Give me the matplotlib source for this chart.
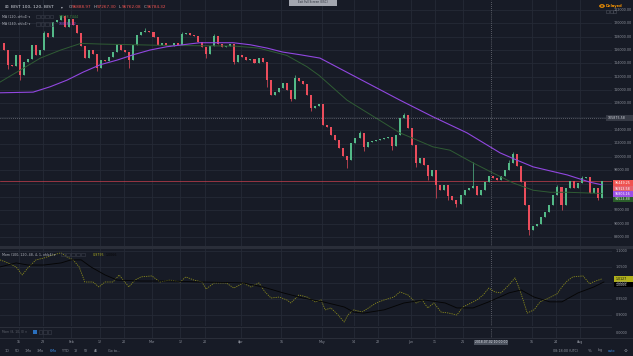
import numpy as np
import pandas as pd
import matplotlib.pyplot as plt
from matplotlib.patches import Rectangle, Circle

W, H = 633, 356
BG = '#171b26'
GRID = '#252a36'
TXT = '#8d919b'
UP = '#53b987'
DN = '#eb4d5c'

# BIST trading days shown on the chart (one candle per day here)
holidays = ["2018-04-23", "2018-05-01", "2018-06-15"]
days = pd.bdate_range("2018-01-09", "2018-08-08")
days = days[~days.isin(pd.to_datetime(holidays))]

# daily closes, thousands
first_open = 117.0
closes = [116.0, 113.8, 113.6, 115.3, 112.3, 114.2, 114.6, 116.8, 115.3, 116.0,
          118.6, 118.0, 120.2, 120.5, 121.1, 119.5, 120.7, 119.8, 118.6, 116.6,
          114.8, 116.0, 115.4, 113.3, 114.5, 114.4, 115.0, 115.7, 116.9, 116.0,
          115.7, 114.5, 116.8, 118.3, 118.7, 118.9, 118.7, 118.0, 116.8, 117.0,
          116.8, 116.6, 117.0, 116.8, 118.4, 118.5, 118.3, 118.1, 117.2, 116.5,
          115.4, 116.6, 118.1, 116.9, 116.5, 116.6, 116.9, 114.2, 115.3, 115.0,
          114.5, 114.7, 114.1, 114.8, 114.2, 111.5, 109.3, 109.7, 110.3, 111.1,
          110.0, 108.7, 111.8, 111.4, 110.9, 109.3, 107.3, 107.6, 107.9, 104.8,
          104.5, 103.3, 102.5, 101.3, 100.1, 99.5, 102.1, 102.8, 103.6, 101.5,
          102.2, 102.4, 102.5, 102.7, 102.8, 103.0, 101.6, 103.3, 105.8, 106.3,
          104.3, 101.8, 99.1, 99.8, 98.8, 97.1, 98.0, 95.8, 95.0, 95.8,
          94.1, 93.5, 92.9, 94.3, 95.0, 95.3, 95.6, 94.3, 95.0, 96.2,
          97.1, 96.8, 96.6, 97.1, 98.0, 99.1, 100.4, 98.6, 96.2, 92.8,
          89.0, 89.6, 89.9, 91.0, 91.7, 92.8, 94.3, 95.5, 92.8, 95.3,
          96.4, 95.3, 96.1, 96.8, 97.0, 94.6, 95.3, 93.8, 96.45]
wick_hi = {14: 121.3, 99: 106.6, 116: 99.2, 126: 100.8, 72: 112.3, 35: 119.3,
           10: 118.9, 44: 118.7, 52: 118.4, 88: 103.9, 125: 99.5, 137: 95.8,
           143: 97.2}
wick_lo = {4: 111.5, 31: 113.3, 57: 113.9, 71: 108.4, 85: 98.3, 89: 100.9,
           107: 93.8, 112: 92.5, 130: 88.3, 138: 92.0, 147: 93.5, 23: 112.8,
           50: 114.8, 65: 110.4, 76: 106.9, 96: 101.0, 102: 98.5, 105: 96.6,
           110: 93.5, 1: 113.2}

# moving averages (day index, thousands)
ma120_x = [-1, 4, 9, 14, 19, 24, 40, 57, 63, 70, 75, 78, 84.9, 98, 106.2, 110.4,
           116.1, 121, 126, 131, 135.2, 139.4, 148]
ma120_y = [111.2, 113.0, 114.8, 116.0, 117.0, 116.9, 116.7, 116.6, 116.3, 115.2,
           113.5, 112.2, 108.5, 103.6, 101.5, 101.0, 99.1, 97.6, 96.1, 95.0,
           94.7, 94.7, 94.52]
ma240_x = [-1, 7.2, 11.4, 15.6, 19.6, 23.8, 28, 32, 36.1, 40.3, 44.3, 48.5, 56.7,
           60.9, 65.1, 69, 73.3, 78.2, 98, 106.2, 114.6, 122.8, 127, 131, 139.4,
           145.1, 148]
ma240_y = [109.6, 109.7, 110.5, 111.5, 112.7, 113.8, 114.5, 115.3, 116.0, 116.5,
           116.8, 117.1, 117.1, 116.8, 116.3, 115.7, 115.3, 114.8, 108.5, 106.0,
           103.6, 100.6, 99.5, 98.5, 97.3, 96.2, 95.81]

# momentum pane
mom_x = [-1, 1, 3, 4.5, 5.9, 7.9, 9.9, 12.1, 14.1, 15.6, 17.1, 18.6, 20, 22, 23.5,
         25, 27, 28.5, 29.5, 30.9, 32.4, 33.9, 36.6, 38.6, 41.1, 43.6, 45, 47, 49,
         50, 52, 55, 56.9, 59.2, 61.1, 63.1, 64.6, 66.1, 68.1, 70, 71, 73, 75, 77,
         78.5, 79.5, 80.9, 82.7, 84.2, 85.1, 86.6, 88.6, 90.6, 92.1, 94.1, 96.5, 98,
         100, 102, 103.5, 104.9, 106.4, 108.2, 110.1, 112.1, 113.6, 115.6, 117.1,
         118.6, 120, 121.5, 123, 125, 126.5, 127.5, 128.5, 129.5, 131.2, 132.7,
         134.4, 136.9, 138.1, 139.4, 140.8, 143.3, 145, 145.8, 148]
mom_y = [1.072, 1.0625, 1.05, 1.025, 1.047, 1.072, 1.078, 1.0875, 1.094, 1.081,
         1.072, 1.05, 1.003, 1.003, 0.9875, 1.003, 1.003, 1.025, 1.009, 0.9875,
         1.009, 1.019, 1.022, 1.003, 1.009, 1.003, 1.019, 1.009, 1.003, 0.981,
         1.0, 1.0, 0.984, 1.0, 0.9875, 1.0, 0.972, 0.953, 0.956, 0.947, 0.9375,
         0.9625, 0.956, 0.941, 0.947, 0.916, 0.922, 0.9, 0.878, 0.9, 0.916, 0.909,
         0.925, 0.9375, 0.947, 0.956, 0.972, 0.9625, 0.9375, 0.947, 0.922, 0.9375,
         0.909, 0.906, 0.9, 0.925, 0.9375, 0.947, 0.9625, 0.984, 0.972, 0.969,
         0.994, 1.016, 0.984, 0.947, 0.906, 0.916, 0.941, 0.95, 0.966, 0.9875,
         1.006, 1.019, 1.022, 0.997, 1.003, 1.0127]
momma_x = [-1, 3, 5.9, 9.9, 14.1, 16.6, 19.1, 21.5, 25, 28, 33.9, 41.1, 49, 59.2,
           64.1, 69.1, 74, 79, 84.2, 86.6, 89.1, 94.1, 99, 104, 109.2, 112.1, 116.1,
           120, 125, 128, 131.2, 135.1, 138.1, 142.1, 146, 148.5]
momma_y = [1.05, 1.0625, 1.056, 1.056, 1.0625, 1.072, 1.072, 1.05, 1.025, 1.009,
           1.006, 1.006, 1.003, 1.0, 0.9875, 0.969, 0.953, 0.941, 0.925, 0.909,
           0.906, 0.916, 0.9375, 0.947, 0.9375, 0.922, 0.922, 0.941, 0.969, 0.978,
           0.956, 0.941, 0.941, 0.969, 0.9875, 1.003]

tick_dates = ["2018-01-15", "2018-01-23", "2018-02-01", "2018-02-12", "2018-02-20",
              "2018-03-01", "2018-03-12", "2018-03-20", "2018-04-02", "2018-04-16",
              "2018-05-02", "2018-05-14", "2018-05-22", "2018-06-01", "2018-06-11",
              "2018-06-21", "2018-07-16", "2018-07-24", "2018-08-01"]
tick_labels = ["15", "23", "Feb", "12", "20", "Mar", "12", "20", "Apr", "16", "May",
               "14", "22", "Jun", "11", "21", "16", "24", "Aug"]
price_levels = list(range(88000, 124000, 2000))
hidden_levels = [94000, 96000, 106000]
mom_levels = [1.10, 1.05, 1.00, 0.95, 0.90]

tick_idx = [days.get_loc(pd.Timestamp(d)) - 0.35 for d in tick_dates]
cross_i = days.get_loc(pd.Timestamp("2018-07-02")) - 0.35


def box(x0, y0, x1, y1):
    return [x0 / W, 1 - y1 / H, (x1 - x0) / W, (y1 - y0) / H]


def ftext(x, y, s, **kw):
    kw.setdefault('color', TXT)
    kw.setdefault('fontsize', 2.4)
    kw.setdefault('va', 'center')
    fig.text(x / W, 1 - y / H, s, **kw)


def frect(x0, y0, x1, y1, fc, ec='none', lw=0):
    fig.add_artist(Rectangle((x0 / W, 1 - y1 / H), (x1 - x0) / W, (y1 - y0) / H,
                             transform=fig.transFigure, fc=fc, ec=ec, lw=lw))


def tag(y, s, fc, tc='white', x0=613):
    frect(x0, y - 2.6, 633, y + 2.6, fc)
    ftext(x0 + 2, y, s, color=tc, fontsize=2.3)


fig = plt.figure(figsize=(W / 100, H / 100), dpi=100, facecolor=BG)

ax = fig.add_axes(box(0, 0, 612, 246))
axm = fig.add_axes(box(0, 249, 612, 326))
axs = fig.add_axes(box(0, 328, 612, 338))
for a in (ax, axm, axs):
    a.set_facecolor(BG)
    a.set_xlim(-1, 150.5)
    for s in a.spines.values():
        s.set_visible(False)
    a.set_xticks([])
    a.set_yticks([])
    for t in tick_idx:
        a.axvline(t, color=GRID, lw=0.6, zorder=0)

ax.set_ylim(86650, 123500)
axm.set_ylim(0.8656, 1.106)
axs.set_ylim(0, 1)

for lv in price_levels:
    ax.axhline(lv, color=GRID, lw=0.6, zorder=0)
for lv in mom_levels:
    axm.axhline(lv, color=GRID, lw=0.6, zorder=0)

# candles
close = np.array(closes) * 1000
opens = np.r_[first_open * 1000, close[:-1]]
xs = np.arange(len(close))
col = np.where(close >= opens, UP, DN)
hi = np.maximum(opens, close)
lo = np.minimum(opens, close)
for k, v in wick_hi.items():
    hi[k] = v * 1000
for k, v in wick_lo.items():
    lo[k] = v * 1000
body = np.where(np.abs(close - opens) < 60, 60, close - opens)
ax.vlines(xs, lo, hi, colors=col, lw=0.5, zorder=3)
ax.bar(xs, body, bottom=opens, width=0.5, color=col, lw=0, zorder=3)

ax.plot(ma120_x, np.array(ma120_y) * 1000, color='#2f5c34', lw=0.7, zorder=4)
ax.plot(ma240_x, np.array(ma240_y) * 1000, color='#9147e0', lw=0.8, zorder=4)

# last price line and crosshair
ax.axhline(96449.25, color='#c9404d', lw=0.5, zorder=2)
ax.axhline(105875.58, color='#9598a1', lw=0.5, ls=(0, (1, 2)), zorder=5)
for a in (ax, axm, axs):
    a.axvline(cross_i, color='#9598a1', lw=0.5, ls=(0, (1, 2)), zorder=5)

axm.plot(mom_x, mom_y, color='#8a8a1c', lw=0.6, ls=(0, (1.5, 1.2)), zorder=3)
axm.plot(momma_x, momma_y, color='#050505', lw=0.65, zorder=4)

# pane separators and price scale border
frect(0, 246, 633, 249, '#2a2e39')
frect(0, 326.5, 612, 327.5, '#2a2e39')
frect(0, 338, 633, 339, '#2a2e39')
frect(611.5, 0, 612.3, 346, '#2f333e')

# price scale
for lv in price_levels:
    if lv in hidden_levels:
        continue
    yp = 10 + (122000 - lv) / 2000 * 13.35
    ftext(614, yp, '%.2f' % lv)
tag(118, '105875.58', '#363a45', '#d1d4dc', x0=606)
tag(183, '96449.25', '#ef5350')
tag(188.5, '95913.58', '#e5606c')
tag(194, '95806.16', '#9b4fe6')
tag(199.5, '94524.88', '#2a5d2a', '#d8e6d8')

for lv in mom_levels:
    ftext(616, 283 - (lv - 1.0) / 0.05 * 16, '%.4f' % lv)
tag(279, '1.0127', '#b0b01c', '#151515', x0=614)
tag(284.5, '1.0066', '#000000', '#d1d4dc', x0=614)
ftext(616, 333, '0.0000')

# date axis
for t, lab in zip(tick_idx, tick_labels):
    ftext(4 + 4.04 * t, 342, lab, ha='center', fontsize=2.3)
xc = 4 + 4.04 * cross_i
frect(xc - 17, 339.5, xc + 17, 344.5, '#4c525e')
ftext(xc, 342, '2018-07-02 10:00:00', ha='center', color='#e0e3eb', fontsize=2.2)

# bottom toolbar
for xp, lab in zip([7, 17, 28, 40, 53, 65, 76, 86, 96, 114],
                   ['1D', '5D', '1Mo', '3Mo', '6Mo', 'YTD', '1Y', '5Y', 'All', 'Go to...']):
    ftext(xp, 350.5, lab, ha='center', fontsize=2.4,
          color='#3d8ee8' if lab == '6Mo' else TXT)
frect(49, 352.8, 57, 353.4, '#3d8ee8')
ftext(566, 350.5, '08:18:00 (UTC)', ha='center')
ftext(590, 350.5, '%', ha='center', fontsize=2.8)
ftext(600, 350.5, 'log', ha='center')
ftext(612, 350.5, 'auto', ha='center', color='#3d8ee8')
ftext(626, 350.5, '\u2699', ha='center', fontsize=3.2)

# legends
ftext(5, 7.5, '\u229e', fontsize=3.2, color='#b2b5be')
ftext(11, 7.5, 'BIST 100, 120, BIST', fontsize=3.2, color='#d1d4dc')
ftext(61, 7.5, '\u25be', fontsize=2.6, color='#b2b5be')
xo = 69
for k, v in zip('OHLC', ['96888.97', '97267.30', '96762.08', '96784.32']):
    ftext(xo, 7.5, k, fontsize=3.0, color='#b2b5be')
    ftext(xo + 3, 7.5, v, fontsize=3.0, color='#ef5350')
    xo += 25
for yp, lab, val, vc in [(16.5, 'MA (120, ohlc4)', '97578.7444', '#3f8a3f'),
                         (24, 'MA (240, ohlc4)', '100636.12', '#9b4fe6')]:
    ftext(2, yp, lab + ' \u25be', fontsize=2.3, color='#b2b5be')
    for b in range(4):
        frect(36 + b * 4.6, yp - 1.8, 39.6 + b * 4.6, yp + 1.8, 'none', '#3a3e4a', 0.4)
    ftext(59, yp, val, fontsize=2.3, color=vc)

ftext(2, 254.5, 'Mom (100, 120, 48, 4, 1, ohlc4) \u25be', fontsize=2.3, color='#b2b5be')
for b in range(5):
    frect(61 + b * 5, 252.7, 64.6 + b * 5, 256.3, 'none', '#3a3e4a', 0.4)
ftext(93, 254.5, '0.9795', fontsize=2.3, color='#a5a51f')
ftext(106, 254.5, '1.0066', fontsize=2.3, color='#050505')

ftext(2, 332, 'Mom (8, 10, 0) \u25be', fontsize=2.2, color='#5d616b')
frect(33, 330.2, 37, 333.8, '#2a6fbd')
for b in range(3):
    frect(38.5 + b * 4.5, 330.2, 42 + b * 4.5, 333.8, 'none', '#3a3e4a', 0.4)

# top overlays
frect(289, -1, 337, 5.5, '#a3a6af')
ftext(313, 2.3, 'Exit Full Screen (ESC)', ha='center', fontsize=2.0, color='#2a2e39')
fig.add_artist(Circle((602 / W, 1 - 6 / H), 2.2 / W, transform=fig.transFigure,
                      fc='none', ec='#ff9800', lw=0.8))
ftext(606, 6, 'Delayed', fontsize=2.6, color='#ff9800', weight='bold')
for b in range(3):
    frect(606 + b * 3.6, 10.3, 609 + b * 3.6, 13.3, 'none', '#4a4e5a', 0.4)

fig.savefig('out.png', dpi=100, facecolor=BG)
